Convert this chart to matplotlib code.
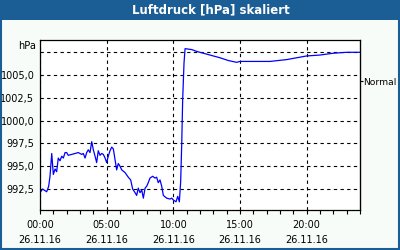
import matplotlib.pyplot as plt
from matplotlib.patches import Rectangle

# hours since 00:00 on 26.11.16
hours = [0.05, 0.2, 0.5, 0.65, 0.75, 0.88, 1.0, 1.13, 1.25, 1.37, 1.5, 1.63, 1.75, 1.88,
         2.0, 2.12, 2.38, 2.63, 2.87, 3.13, 3.25, 3.38, 3.5, 3.62, 3.75, 3.88, 4.0, 4.13,
         4.25, 4.37, 4.5, 4.63, 4.75, 4.88, 5.0, 5.12, 5.25, 5.38, 5.5, 5.63, 5.75, 5.87,
         6.0, 6.13, 6.38, 6.62, 6.8, 6.95, 7.13, 7.25, 7.37, 7.5, 7.63, 7.75, 7.88, 8.0,
         8.12, 8.25, 8.45, 8.63, 8.75, 8.87, 9.0, 9.13, 9.25, 9.5, 9.75, 9.88, 10.0, 10.2,
         10.33, 10.45, 10.55, 10.63, 10.7, 10.8, 10.88, 11.38, 11.75, 12.25, 12.75, 13.5,
         14.12, 14.75, 15.0, 17.25, 18.5, 20.0, 21.0, 22.0, 23.0, 24.0]
# pressure (hPa)
pressure = [992.2, 992.5, 992.2, 992.8, 993.9, 996.4, 994.1, 994.7, 994.4, 995.9, 995.6,
            996.1, 995.9, 996.5, 996.5, 996.2, 996.3, 996.4, 996.5, 996.3, 996.4, 995.9,
            996.5, 996.8, 996.5, 997.7, 996.8, 996.1, 995.4, 996.7, 996.2, 996.4, 996.3,
            995.9, 995.4, 996.1, 996.7, 997.1, 996.9, 995.7, 994.6, 995.3, 995.0, 994.6,
            994.3, 993.8, 993.5, 992.5, 992.1, 991.8, 992.6, 992.1, 992.4, 991.5, 992.6,
            992.8, 993.2, 993.7, 993.9, 993.7, 993.8, 993.2, 993.5, 992.8, 991.8, 991.5,
            991.4, 991.5, 991.3, 991.1, 991.7, 991.1, 993.3, 997.5, 1002.3, 1006.3, 1007.9,
            1007.8, 1007.6, 1007.4, 1007.2, 1006.9, 1006.6, 1006.4, 1006.5, 1006.5, 1006.7,
            1007.1, 1007.2, 1007.4, 1007.5, 1007.5]

y_ticks = [992.5, 995.0, 997.5, 1000.0, 1002.5, 1005.0, 1007.5]
y_labels = ['992,5', '995,0', '997,5', '1000,0', '1002,5', '1005,0', '']
x_ticks = [0, 5, 10, 15, 20]
x_labels = ['00:00\n26.11.16', '05:00\n26.11.16', '10:00\n26.11.16',
            '15:00\n26.11.16', '20:00\n26.11.16']
normal_level = 1004.3

frame_blue = '#1B5E96'

fig = plt.figure(figsize=(4, 2.5), dpi=100, facecolor='#F8FCF8')
ax = fig.add_axes([0.1, 0.16, 0.8, 0.68])
ax.set_facecolor('white')

ax.plot(hours, pressure, color='#0000FF', linewidth=0.9)

ax.set_xlim(0, 24)
ax.set_ylim(990.2, 1008.85)

ax.set_xticks(x_ticks)
ax.set_xticklabels(x_labels, fontsize=7, linespacing=1.7)
ax.set_xticks(range(25), minor=True)
ax.tick_params(axis='x', which='both', direction='out', length=3, width=0.8, pad=4)

ax.set_yticks(y_ticks)
ax.set_yticklabels(y_labels, fontsize=7)
ax.tick_params(axis='y', length=0, pad=4)

ax.grid(True, color='black', linestyle=(0, (3, 3)), linewidth=0.8)

for s in ax.spines.values():
    s.set_linewidth(0.9)

# right-hand "Normal" marker
sec = ax.secondary_yaxis('right')
sec.set_yticks([normal_level])
sec.set_yticklabels(['Normal'], fontsize=6.6)
sec.tick_params(length=2, width=0.8, pad=0.5)

fig.text(36 / 400, 1 - 46 / 250, 'hPa', ha='right', va='center', fontsize=7)

# title bar and border
fig.patches.append(Rectangle((0, 1 - 20 / 250), 1, 20 / 250, transform=fig.transFigure,
                             facecolor=frame_blue, edgecolor='none', zorder=0))
fig.patches.append(Rectangle((0.002, 0.003), 0.996, 0.995, transform=fig.transFigure,
                             facecolor='none', edgecolor=frame_blue, linewidth=1.5))
fig.text(211 / 400, 1 - 10 / 250, 'Luftdruck [hPa] skaliert', ha='center', va='center',
         color='white', fontsize=8.5, fontweight='bold')

plt.savefig('out.png', dpi=100, facecolor=fig.get_facecolor())
